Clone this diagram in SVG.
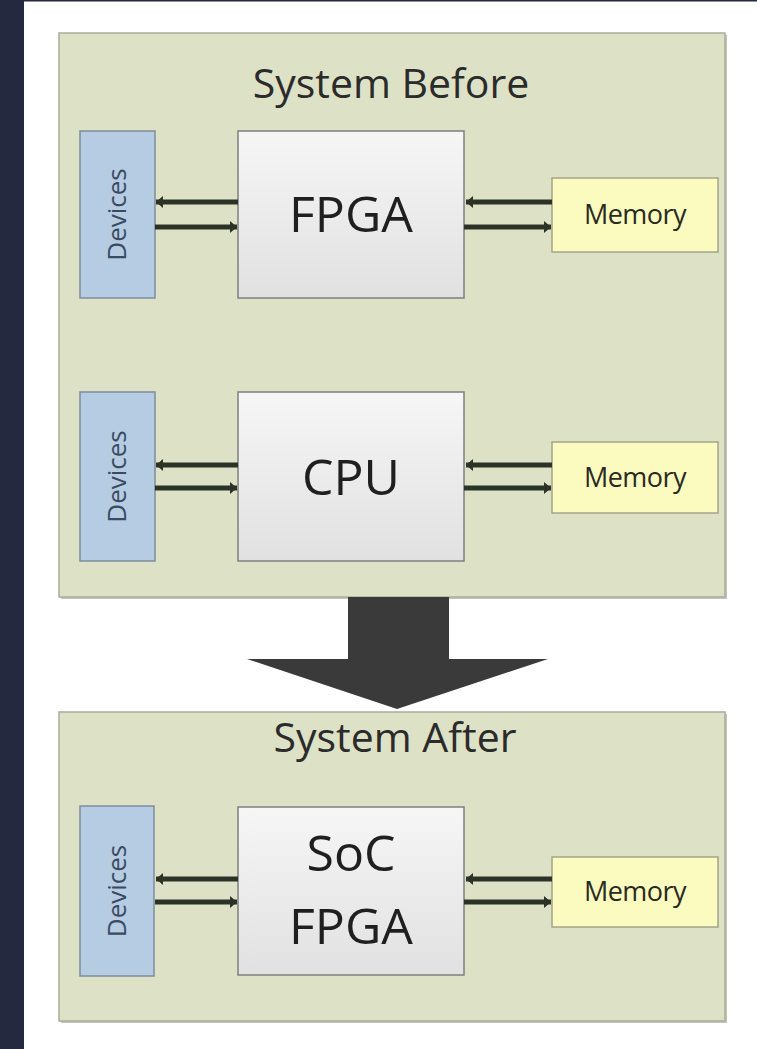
<svg xmlns="http://www.w3.org/2000/svg" width="757" height="1049" viewBox="0 0 757 1049">
<style>
.panel{fill:#dde2c7;stroke:#a9ad9b;stroke-width:1.5}
.shadow{fill:#c3c6b8}
.dev{fill:#b6cce2;stroke:#7d8d9c;stroke-width:1.5}
.chip{fill:url(#chipGrad);stroke:#7f7f7f;stroke-width:1.5}
.mem{fill:#fbfbc0;stroke:#a4a489;stroke-width:1.5}
.title{font-family:"Open Sans","Liberation Sans",sans-serif;font-size:41px;fill:#2b2b2b;text-anchor:middle}
.big{font-family:"Open Sans","Liberation Sans",sans-serif;font-size:50px;fill:#1f1f1f;text-anchor:middle}
.devt{font-family:"Open Sans","Liberation Sans",sans-serif;font-size:26px;fill:#3a4a62;text-anchor:middle}
.memt{font-family:"Open Sans","Liberation Sans",sans-serif;font-size:27px;fill:#2a2a22;text-anchor:middle;letter-spacing:-0.5px}
.bus{stroke:#2b3327;stroke-width:5;fill:none;marker-end:url(#ah)}
</style>
<defs>
<linearGradient id="chipGrad" x1="0" y1="0" x2="0" y2="1">
<stop offset="0" stop-color="#f6f6f6"/>
<stop offset="1" stop-color="#e1e1e1"/>
</linearGradient>
<marker id="ah" markerUnits="userSpaceOnUse" markerWidth="10" markerHeight="12" refX="7" refY="6" orient="auto">
<path d="M0,0 L7,6 L0,12 Z" fill="#2b3327"/>
</marker>
</defs>
<rect x="0" y="0" width="757" height="1049" fill="#ffffff"/>
<rect x="0" y="0" width="24" height="1049" fill="#252940"/>
<rect x="0" y="0" width="757" height="1.5" fill="#252940"/>

<g id="panel-before">
<rect class="shadow" x="61" y="35" width="666" height="564"/>
<rect class="panel" x="59" y="33" width="666" height="564"/>
<text class="title" x="391" y="98">System Before</text>
</g>

<g id="panel-after">
<rect class="shadow" x="61" y="714" width="666" height="309"/>
<rect class="panel" x="59" y="712" width="666" height="309"/>
<text class="title" x="395" y="752">System After</text>
</g>

<g id="transition-arrow">
<polygon points="348,597 449,597 449,659 548,659 397,709 247,659 348,659" fill="#3a3a3a"/>
</g>

<g id="devices1">
<rect class="dev" x="80" y="131" width="75" height="167"/>
<text class="devt" transform="translate(126,214.5) rotate(-90)">Devices</text>
</g>
<g id="fpga">
<rect class="chip" x="238" y="131" width="226" height="167"/>
<text class="big" x="351" y="232">FPGA</text>
</g>
<g id="memory1">
<rect class="mem" x="552" y="178" width="166" height="74"/>
<text class="memt" x="635" y="224">Memory</text>
</g>

<g id="devices2">
<rect class="dev" x="80" y="392" width="75" height="169"/>
<text class="devt" transform="translate(126,476.5) rotate(-90)">Devices</text>
</g>
<g id="cpu">
<rect class="chip" x="238" y="392" width="226" height="169"/>
<text class="big" x="351" y="495">CPU</text>
</g>
<g id="memory2">
<rect class="mem" x="552" y="442" width="166" height="71"/>
<text class="memt" x="635" y="487">Memory</text>
</g>

<g id="devices3">
<rect class="dev" x="80" y="806" width="74" height="170"/>
<text class="devt" transform="translate(126,891) rotate(-90)">Devices</text>
</g>
<g id="socfpga">
<rect class="chip" x="238" y="807" width="226" height="168"/>
<text class="big" x="351" y="871">SoC</text>
<text class="big" x="351" y="944">FPGA</text>
</g>
<g id="memory3">
<rect class="mem" x="552" y="857" width="166" height="70"/>
<text class="memt" x="635" y="901">Memory</text>
</g>

<g id="connectors">
<line class="bus" x1="238" y1="202" x2="156" y2="202"/>
<line class="bus" x1="155" y1="227" x2="237" y2="227"/>
<line class="bus" x1="552" y1="202" x2="466" y2="202"/>
<line class="bus" x1="464" y1="227" x2="551" y2="227"/>

<line class="bus" x1="238" y1="465" x2="156" y2="465"/>
<line class="bus" x1="155" y1="488" x2="237" y2="488"/>
<line class="bus" x1="552" y1="465" x2="466" y2="465"/>
<line class="bus" x1="464" y1="488" x2="551" y2="488"/>

<line class="bus" x1="238" y1="879" x2="156" y2="879"/>
<line class="bus" x1="155" y1="902" x2="237" y2="902"/>
<line class="bus" x1="552" y1="879" x2="466" y2="879"/>
<line class="bus" x1="464" y1="902" x2="551" y2="902"/>
</g>
</svg>
